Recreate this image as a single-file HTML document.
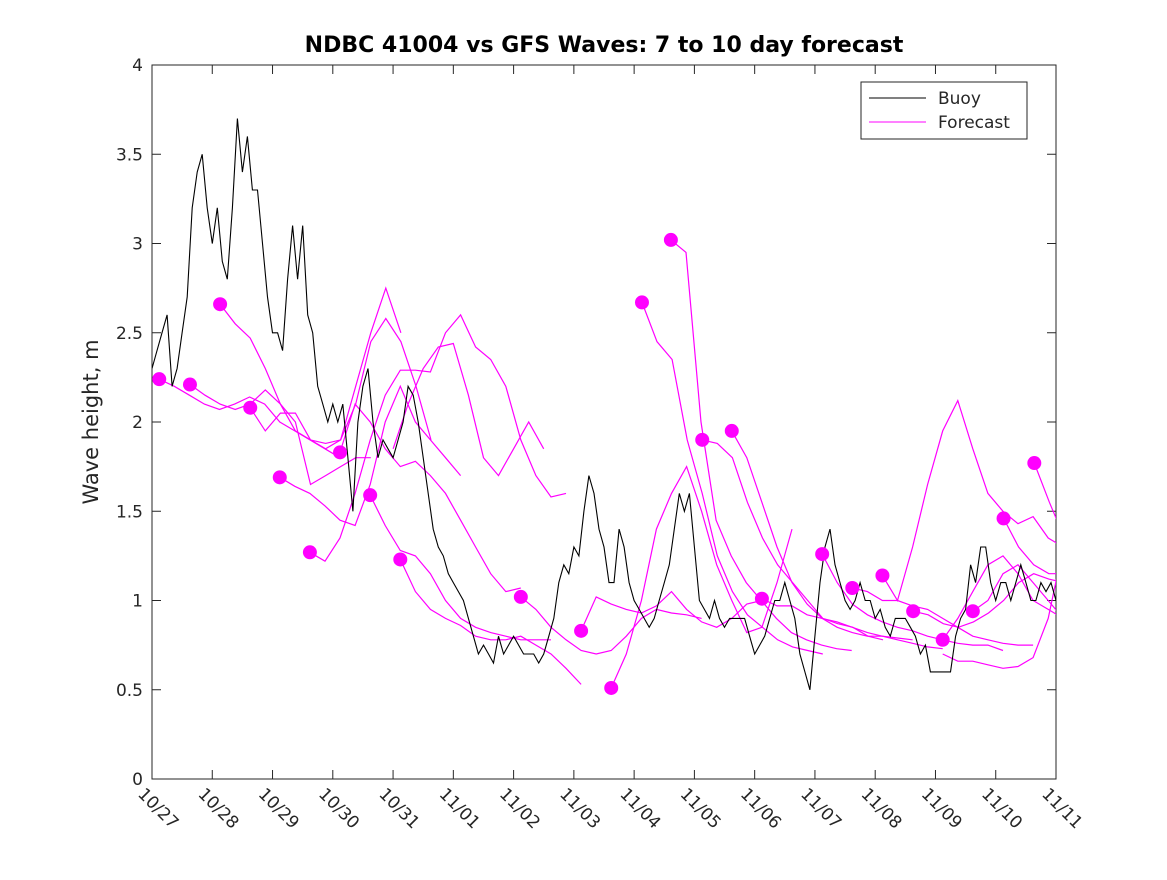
<!DOCTYPE html>
<html><head><meta charset="utf-8"><style>
body{margin:0;background:#fff;}
svg text{font-family:"DejaVu Sans","Liberation Sans",sans-serif;fill:#262626;}
</style></head><body>
<svg id="chart" width="1167" height="875" viewBox="0 0 1167 875" xmlns="http://www.w3.org/2000/svg">
<rect width="1167" height="875" fill="#fff"/>
<defs><clipPath id="pc"><rect x="152" y="65" width="904" height="714"/></clipPath></defs>
<text x="604" y="52" text-anchor="middle" font-size="22" font-weight="bold" style="fill:#000">NDBC 41004 vs GFS Waves: 7 to 10 day forecast</text>
<text transform="translate(98,422) rotate(-90)" text-anchor="middle" font-size="21">Wave height, m</text>
<g id="axes"></g>
<g id="series" clip-path="url(#pc)"></g>
<g id="dots"></g>
<g>
<rect x="861" y="82" width="166" height="57" fill="#fff" stroke="#262626" stroke-width="1"/>
<line x1="869" y1="98" x2="926" y2="98" stroke="#000" stroke-width="1"/>
<text x="938" y="104" font-size="17">Buoy</text>
<line x1="869" y1="122" x2="926" y2="122" stroke="#f0f" stroke-width="1"/>
<text x="938" y="128" font-size="17">Forecast</text>
</g>
</svg>
<script>
const xTickLabels=["10/27","10/28","10/29","10/30","10/31","11/01","11/02","11/03","11/04","11/05","11/06","11/07","11/08","11/09","11/10","11/11"];
const yTicks=[0,0.5,1,1.5,2,2.5,3,3.5,4];
const yTickLabels=["0","0.5","1","1.5","2","2.5","3","3.5","4"];
const buoyStep=1/12;
const buoyValues=[2.3,2.4,2.5,2.6,2.2,2.3,2.5,2.7,3.2,3.4,3.5,3.2,3.0,3.2,2.9,2.8,3.2,3.7,3.4,3.6,3.3,3.3,3.0,2.7,2.5,2.5,2.4,2.8,3.1,2.8,3.1,2.6,2.5,2.2,2.1,2.0,2.1,2.0,2.1,1.8,1.5,2.0,2.2,2.3,2.0,1.8,1.9,1.85,1.8,1.9,2.0,2.2,2.15,2.0,1.8,1.6,1.4,1.3,1.25,1.15,1.1,1.05,1.0,0.9,0.8,0.7,0.75,0.7,0.65,0.8,0.7,0.75,0.8,0.75,0.7,0.7,0.7,0.65,0.7,0.8,0.9,1.1,1.2,1.15,1.3,1.25,1.5,1.7,1.6,1.4,1.3,1.1,1.1,1.4,1.3,1.1,1.0,0.95,0.9,0.85,0.9,1.0,1.1,1.2,1.4,1.6,1.5,1.6,1.3,1.0,0.95,0.9,1.0,0.9,0.85,0.9,0.9,0.9,0.9,0.8,0.7,0.75,0.8,0.9,1.0,1.0,1.1,1.0,0.9,0.7,0.6,0.5,0.8,1.1,1.3,1.4,1.2,1.1,1.0,0.95,1.0,1.1,1.0,1.0,0.9,0.95,0.85,0.8,0.9,0.9,0.9,0.85,0.8,0.7,0.75,0.6,0.6,0.6,0.6,0.6,0.8,0.9,0.95,1.2,1.1,1.3,1.3,1.1,1.0,1.1,1.1,1.0,1.1,1.2,1.1,1.0,1.0,1.1,1.05,1.1,1.0,1.0,1.0];
const fcStep=0.25;
const fcStarts=[0.12,0.63,1.13,1.63,2.12,2.62,3.12,3.62,4.12,4.0,6.12,7.12,7.62,8.13,8.61,9.13,9.62,10.12,11.12,11.62,12.12,12.63,13.12,13.62,14.13,14.64,13.12];
const fcHasDot=[1,1,1,1,1,1,1,1,1,0,1,1,1,1,1,1,1,1,1,1,1,1,1,1,1,1,0];
const fc0=[2.24,2.2,2.15,2.1,2.07,2.1,2.14,2.1,2.0,1.95,1.9,1.85,1.8];
const fc1=[2.21,2.15,2.1,2.07,2.1,2.18,2.1,2.0,1.65,1.7,1.75,1.8,1.8];
const fc2=[2.66,2.55,2.47,2.3,2.1,1.95,1.9,1.88,1.9,2.2,2.5,2.75,2.5];
const fc3=[2.08,1.95,2.05,2.05,1.9,1.85,1.9,2.1,2.45,2.58,2.45,2.2,1.9];
const fc4=[1.69,1.64,1.6,1.53,1.45,1.42,1.65,2.0,2.2,2.0,1.9,1.8,1.7];
const fc5=[1.27,1.22,1.35,1.6,1.9,2.15,2.29,2.29,2.28,2.5,2.6,2.42,2.35,2.2,1.9,1.7,1.58,1.6];
const fc6=[1.83,2.1,2.0,1.85,1.75,1.78,1.7,1.6,1.45,1.3,1.15,1.05,1.07];
const fc7=[1.59,1.42,1.28,1.25,1.15,1.0,0.9,0.85,0.82,0.8,0.78,0.78,0.78];
const fc8=[1.23,1.05,0.95,0.9,0.86,0.8,0.78,0.78,0.8,0.75,0.7,0.62,0.53];
const fc9=[1.85,2.1,2.3,2.42,2.44,2.15,1.8,1.7,1.85,2.0,1.85];
const fc10=[1.02,0.95,0.85,0.78,0.72,0.7,0.72,0.8,0.9,0.95,0.93,0.92,0.9];
const fc11=[0.83,1.02,0.98,0.95,0.93,0.97,1.05,0.95,0.88,0.85,0.9,0.98,1.0];
const fc12=[0.51,0.7,1.0,1.4,1.6,1.75,1.5,1.2,1.0,0.82,0.85,1.1,1.4];
const fc13=[2.67,2.45,2.35,1.9,1.6,1.25,1.05,0.92,0.85,0.78,0.74,0.72,0.7];
const fc14=[3.02,2.95,2.0,1.45,1.25,1.1,1.0,0.9,0.82,0.78,0.75,0.73,0.72];
const fc15=[1.9,1.88,1.8,1.55,1.35,1.2,1.1,1.0,0.9,0.87,0.85,0.8,0.78];
const fc16=[1.95,1.8,1.55,1.3,1.1,0.98,0.9,0.85,0.82,0.8,0.8,0.79,0.78];
const fc17=[1.01,0.97,0.97,0.92,0.9,0.88,0.85,0.82,0.8,0.78,0.76,0.74,0.73];
const fc18=[1.26,1.1,0.98,0.92,0.88,0.85,0.83,0.8,0.78,0.76,0.75,0.75,0.72];
const fc19=[1.07,1.05,1.0,1.0,0.97,0.95,0.9,0.85,0.8,0.78,0.76,0.75,0.75];
const fc20=[1.14,1.0,1.3,1.65,1.95,2.12,1.85,1.6,1.5,1.43,1.47,1.35,1.3];
const fc21=[0.94,0.92,0.87,0.85,0.88,0.93,1.0,1.1,1.15,1.12,1.1,1.05,1.0];
const fc22=[0.78,0.9,1.05,1.2,1.25,1.15,1.0,0.95,0.9,0.86,0.82,0.85,0.9];
const fc23=[0.94,1.0,1.15,1.2,1.1,1.0,0.9,0.85,0.8,0.78,0.8,0.82];
const fc24=[1.46,1.3,1.2,1.15,1.15,1.12,1.1,1.0];
const fc25=[1.77,1.55,1.35];
const fc26=[0.7,0.66,0.66,0.64,0.62,0.63,0.68,0.9,1.3,1.43,1.45,1.35,1.25];
const fcValues=[fc0,fc1,fc2,fc3,fc4,fc5,fc6,fc7,fc8,fc9,fc10,fc11,fc12,fc13,fc14,fc15,fc16,fc17,fc18,fc19,fc20,fc21,fc22,fc23,fc24,fc25,fc26];

const X0=152,X1=1056,Y0=779,Y1=65,DMAX=15,VMAX=4;
function xs(d){return X0+d*(X1-X0)/DMAX;}
function ys(v){return Y0-v*(Y0-Y1)/VMAX;}
const NS="http://www.w3.org/2000/svg";
function mk(t,a,p){const e=document.createElementNS(NS,t);for(const k in a)e.setAttribute(k,a[k]);p.appendChild(e);return e;}
const axes=document.getElementById('axes');
const box=mk('rect',{x:X0,y:Y1,width:X1-X0,height:Y0-Y1,fill:'none',stroke:'#262626','stroke-width':1},axes);


xTickLabels.forEach((lab,i)=>{
  const x=xs(i);
  const t1=mk('line',{x1:x,y1:Y0,x2:x,y2:Y0-9,stroke:'#262626'},axes);
  
  
  const t2=mk('line',{x1:x,y1:Y1,x2:x,y2:Y1+9,stroke:'#262626'},axes);
  
  
  const tx=mk('text',{x:0,y:0,'font-size':17,transform:`translate(${x-15},${Y0+16}) rotate(45)`},axes);
  tx.textContent=lab;
  
  
});
yTicks.forEach((v,i)=>{
  const y=ys(v);
  const t1=mk('line',{x1:X0,y1:y,x2:X0+9,y2:y,stroke:'#262626'},axes);
  
  
  const t2=mk('line',{x1:X1,y1:y,x2:X1-9,y2:y,stroke:'#262626'},axes);
  
  
  const tx=mk('text',{x:X0-9,y:y+6,'text-anchor':'end','font-size':17},axes);
  tx.textContent=yTickLabels[i];
  
  
});
const ser=document.getElementById('series');
const dots=document.getElementById('dots');
fcValues.forEach((vals,i)=>{
  const pts=vals.map((v,j)=>xs(fcStarts[i]+j*fcStep).toFixed(1)+','+ys(v).toFixed(1)).join(' ');
  const pl=mk('polyline',{points:pts,fill:'none',stroke:'#f0f','stroke-width':1.2},ser);
  
  
});
const bp=buoyValues.map((v,j)=>xs(j*buoyStep).toFixed(1)+','+ys(v).toFixed(1)).join(' ');
const bl=mk('polyline',{points:bp,fill:'none',stroke:'#000','stroke-width':1.1},ser);


fcValues.forEach((vals,i)=>{
  if(!fcHasDot[i])return;
  const c=mk('circle',{cx:xs(fcStarts[i]),cy:ys(vals[0]),r:7,fill:'#f0f'},dots);
  
  
});
</script>
</body></html>
